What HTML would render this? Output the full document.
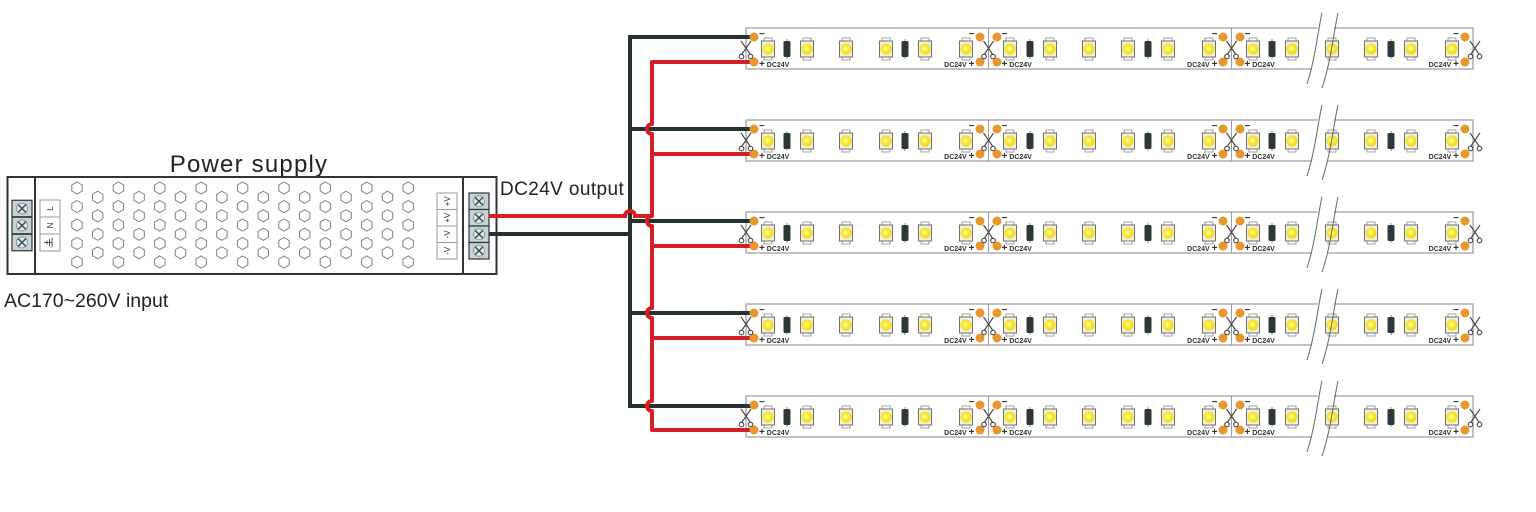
<!DOCTYPE html>
<html><head><meta charset="utf-8"><style>
html,body{margin:0;padding:0;background:#fff;}
svg{display:block;}
text{font-family:"Liberation Sans",Arial,sans-serif;}
.m{font-size:10px;font-weight:bold;fill:#333;}
.d{font-size:7px;font-weight:bold;fill:#333;}
.p{font-size:10px;}
.e{text-anchor:end;}
.lb{font-size:8px;fill:#333;}
</style></head><body>
<svg width="1536" height="512" viewBox="0 0 1536 512" xmlns="http://www.w3.org/2000/svg">
<defs>
<radialGradient id="yg" cx="0.45" cy="0.45" r="0.55">
<stop offset="0" stop-color="#fffbe0"/><stop offset="0.35" stop-color="#fbef55"/><stop offset="1" stop-color="#f0d800"/>
</radialGradient>
<path id="hx" d="M0,-6 L5.2,-3 L5.2,3 L0,6 L-5.2,3 L-5.2,-3 Z" fill="none" stroke="#7f7f7f" stroke-width="1"/>
<g id="c5"><use href="#hx" y="188"/><use href="#hx" y="206.5"/><use href="#hx" y="225"/><use href="#hx" y="243.5"/><use href="#hx" y="262"/></g>
<g id="c4"><use href="#hx" y="197.25"/><use href="#hx" y="215.75"/><use href="#hx" y="234.25"/><use href="#hx" y="252.75"/></g>
<g id="led">
<rect x="-4" y="-11" width="8" height="3.2" fill="#fff" stroke="#8a8a8a" stroke-width="0.8"/>
<rect x="-4" y="7.8" width="8" height="3.2" fill="#fff" stroke="#8a8a8a" stroke-width="0.8"/>
<rect x="-6.5" y="-8" width="13" height="16" fill="#f3efe0" stroke="#6f6f6f" stroke-width="1"/>
<circle r="5.5" fill="url(#yg)"/>
</g>
<g id="res">
<line x1="0" y1="-10" x2="0" y2="10" stroke="#888" stroke-width="1"/>
<rect x="-3.5" y="-8" width="7" height="16" rx="1.5" fill="#2d3838"/>
</g>
<g id="sc" stroke="#444" stroke-width="1.1" fill="none">
<path d="M-5,13 L4,26 M5,13 L-4,26"/>
<circle cx="-4.5" cy="28.5" r="2.3"/>
<circle cx="4.5" cy="28.5" r="2.3"/>
</g>
<g id="scr">
<rect x="-10" y="-8.25" width="20" height="16.5" fill="#c6d3d5" stroke="#333" stroke-width="1.2"/>
<circle r="5.5" fill="#dfe8ea" stroke="#7d9094" stroke-width="0.8"/>
<path d="M-4,-4 L4,4 M4,-4 L-4,4" stroke="#3a4848" stroke-width="1.4"/>
</g>
<g id="st">
<rect x="746" y="0" width="727" height="41" fill="#fff" stroke="#9a9a9a" stroke-width="1.2"/>
<line x1="988.5" y1="0" x2="988.5" y2="41" stroke="#9a9a9a" stroke-width="1"/>
<line x1="1231.5" y1="0" x2="1231.5" y2="41" stroke="#9a9a9a" stroke-width="1"/>
<polygon points="1318,-1 1334,-1 1328,42 1312,42" fill="#fff"/>
<use href="#led" x="768" y="21"/><use href="#res" x="787" y="21"/><use href="#led" x="807" y="21"/>
<use href="#led" x="846" y="21"/><use href="#led" x="886" y="21"/><use href="#res" x="905" y="21"/>
<use href="#led" x="925" y="21"/><use href="#led" x="966" y="21"/>
<use href="#led" x="1010" y="21"/><use href="#res" x="1030" y="21"/><use href="#led" x="1050" y="21"/>
<use href="#led" x="1089" y="21"/><use href="#led" x="1128" y="21"/><use href="#res" x="1148" y="21"/>
<use href="#led" x="1168" y="21"/><use href="#led" x="1209" y="21"/>
<use href="#led" x="1253" y="21"/><use href="#res" x="1272" y="21"/><use href="#led" x="1292" y="21"/>
<use href="#led" x="1332" y="21"/><use href="#led" x="1371" y="21"/><use href="#res" x="1391" y="21"/>
<use href="#led" x="1411" y="21"/><use href="#led" x="1452" y="21"/>
<path d="M1322,-15 C1318,2 1315,32 1307,56 M1338,-15 C1334,2 1331,34 1322,60" fill="none" stroke="#666" stroke-width="1"/>
<g fill="#e8962e">
<circle cx="980" cy="9" r="4.5"/><circle cx="980" cy="34" r="4.5"/>
<circle cx="997" cy="9" r="4.5"/><circle cx="997" cy="34" r="4.5"/>
<circle cx="1223" cy="9" r="4.5"/><circle cx="1223" cy="34" r="4.5"/>
<circle cx="1240" cy="9" r="4.5"/><circle cx="1240" cy="34" r="4.5"/>
<circle cx="1465" cy="9" r="4.5"/><circle cx="1465" cy="34" r="4.5"/>
</g>
<use href="#sc" x="988.5"/><use href="#sc" x="1231.5"/><use href="#sc" x="1475"/>
</g>
</defs>

<!-- Power supply -->
<text x="249" y="172" text-anchor="middle" font-size="24" letter-spacing="1.2" fill="#222">Power supply</text>
<rect x="7.5" y="177" width="489" height="97" fill="#fff" stroke="#333" stroke-width="2"/>
<line x1="35" y1="177" x2="35" y2="274" stroke="#333" stroke-width="2"/>
<line x1="463" y1="177" x2="463" y2="274" stroke="#333" stroke-width="2"/>
<use href="#c5" x="77"/><use href="#c5" x="118.4"/><use href="#c5" x="159.8"/><use href="#c5" x="201.2"/><use href="#c5" x="242.6"/>
<use href="#c5" x="284"/><use href="#c5" x="325.4"/><use href="#c5" x="366.8"/><use href="#c5" x="408.2"/>
<use href="#c4" x="97.7"/><use href="#c4" x="139.1"/><use href="#c4" x="180.5"/><use href="#c4" x="221.9"/>
<use href="#c4" x="263.3"/><use href="#c4" x="304.7"/><use href="#c4" x="346.1"/><use href="#c4" x="387.5"/>

<!-- left terminal -->
<use href="#scr" x="22" y="208.5"/><use href="#scr" x="22" y="225.5"/><use href="#scr" x="22" y="242.5"/>
<rect x="40" y="200" width="20" height="51" fill="#fff" stroke="#999" stroke-width="1"/>
<line x1="40" y1="217" x2="60" y2="217" stroke="#999"/><line x1="40" y1="234" x2="60" y2="234" stroke="#999"/>
<text class="lb" transform="translate(53,208.5) rotate(-90)" text-anchor="middle">L</text>
<text class="lb" transform="translate(53,225.5) rotate(-90)" text-anchor="middle">N</text>
<g stroke="#444" stroke-width="0.9"><line x1="44" y1="242.5" x2="52" y2="242.5"/><line x1="52" y1="237.5" x2="52" y2="247.5"/><line x1="49.5" y1="239" x2="49.5" y2="246"/><line x1="47" y1="240.5" x2="47" y2="244.5"/></g>

<!-- right terminal -->
<rect x="437" y="193" width="20" height="66" fill="#fff" stroke="#999" stroke-width="1"/>
<line x1="437" y1="209.5" x2="457" y2="209.5" stroke="#999"/><line x1="437" y1="226" x2="457" y2="226" stroke="#999"/><line x1="437" y1="242.5" x2="457" y2="242.5" stroke="#999"/>
<text class="lb" transform="translate(450,201.25) rotate(-90)" text-anchor="middle">+V</text>
<text class="lb" transform="translate(450,217.75) rotate(-90)" text-anchor="middle">+V</text>
<text class="lb" transform="translate(450,234.25) rotate(-90)" text-anchor="middle">-V</text>
<text class="lb" transform="translate(450,250.75) rotate(-90)" text-anchor="middle">-V</text>
<use href="#scr" x="479" y="201.25"/><use href="#scr" x="479" y="217.75"/><use href="#scr" x="479" y="234.25"/><use href="#scr" x="479" y="250.75"/>

<text x="500" y="195" font-size="19" letter-spacing="0.4" fill="#222">DC24V output</text>
<text x="4" y="307" font-size="19.5" fill="#222">AC170~260V input</text>

<!-- strips -->
<use href="#st" y="28"/><use href="#st" y="120"/><use href="#st" y="212"/><use href="#st" y="304"/><use href="#st" y="396"/>

<!-- wires -->
<path d="M754,37 H630 V406 H754 M630,129 H754 M630,221 H754 M630,313 H754 M489,234 H630" fill="none" stroke="#263230" stroke-width="4"/>
<path d="M489,216 H625 A5,5 0 0 1 635,216 H652" fill="none" stroke="#d51e24" stroke-width="4"/>
<path d="M754,62 H652 V124 A5,5 0 0 0 652,134 V216 A5,5 0 0 0 652,226 V308 A5,5 0 0 0 652,318 V401 A5,5 0 0 0 652,411 V430 H754 M652,154 H754 M652,246 H754 M652,338 H754" fill="none" stroke="#d51e24" stroke-width="4" stroke-linejoin="round"/>

<!-- start dots and scissors -->
<g fill="#e8962e">
<circle cx="754" cy="37" r="4.5"/><circle cx="754" cy="62" r="4.5"/>
<circle cx="754" cy="129" r="4.5"/><circle cx="754" cy="154" r="4.5"/>
<circle cx="754" cy="221" r="4.5"/><circle cx="754" cy="246" r="4.5"/>
<circle cx="754" cy="313" r="4.5"/><circle cx="754" cy="338" r="4.5"/>
<circle cx="754" cy="405" r="4.5"/><circle cx="754" cy="430" r="4.5"/>
</g>
<use href="#sc" x="746" y="28"/><use href="#sc" x="746" y="120"/><use href="#sc" x="746" y="212"/><use href="#sc" x="746" y="304"/><use href="#sc" x="746" y="396"/>

<!-- strip labels: strip 1 (T=28) -->
<text class="m" x="759" y="37">−</text><text class="d" x="759" y="67"><tspan class="p">+</tspan> DC24V</text>
<text class="m" x="1001.5" y="37">−</text><text class="d" x="1001.5" y="67"><tspan class="p">+</tspan> DC24V</text>
<text class="m" x="1244.5" y="37">−</text><text class="d" x="1244.5" y="67"><tspan class="p">+</tspan> DC24V</text>
<text class="m e" x="974.5" y="37">−</text><text class="d e" x="974.5" y="67">DC24V <tspan class="p">+</tspan></text>
<text class="m e" x="1217.5" y="37">−</text><text class="d e" x="1217.5" y="67">DC24V <tspan class="p">+</tspan></text>
<text class="m e" x="1459" y="37">−</text><text class="d e" x="1459" y="67">DC24V <tspan class="p">+</tspan></text>
<!-- strip 2 (T=120) -->
<text class="m" x="759" y="129">−</text><text class="d" x="759" y="159"><tspan class="p">+</tspan> DC24V</text>
<text class="m" x="1001.5" y="129">−</text><text class="d" x="1001.5" y="159"><tspan class="p">+</tspan> DC24V</text>
<text class="m" x="1244.5" y="129">−</text><text class="d" x="1244.5" y="159"><tspan class="p">+</tspan> DC24V</text>
<text class="m e" x="974.5" y="129">−</text><text class="d e" x="974.5" y="159">DC24V <tspan class="p">+</tspan></text>
<text class="m e" x="1217.5" y="129">−</text><text class="d e" x="1217.5" y="159">DC24V <tspan class="p">+</tspan></text>
<text class="m e" x="1459" y="129">−</text><text class="d e" x="1459" y="159">DC24V <tspan class="p">+</tspan></text>
<!-- strip 3 (T=212) -->
<text class="m" x="759" y="221">−</text><text class="d" x="759" y="251"><tspan class="p">+</tspan> DC24V</text>
<text class="m" x="1001.5" y="221">−</text><text class="d" x="1001.5" y="251"><tspan class="p">+</tspan> DC24V</text>
<text class="m" x="1244.5" y="221">−</text><text class="d" x="1244.5" y="251"><tspan class="p">+</tspan> DC24V</text>
<text class="m e" x="974.5" y="221">−</text><text class="d e" x="974.5" y="251">DC24V <tspan class="p">+</tspan></text>
<text class="m e" x="1217.5" y="221">−</text><text class="d e" x="1217.5" y="251">DC24V <tspan class="p">+</tspan></text>
<text class="m e" x="1459" y="221">−</text><text class="d e" x="1459" y="251">DC24V <tspan class="p">+</tspan></text>
<!-- strip 4 (T=304) -->
<text class="m" x="759" y="313">−</text><text class="d" x="759" y="343"><tspan class="p">+</tspan> DC24V</text>
<text class="m" x="1001.5" y="313">−</text><text class="d" x="1001.5" y="343"><tspan class="p">+</tspan> DC24V</text>
<text class="m" x="1244.5" y="313">−</text><text class="d" x="1244.5" y="343"><tspan class="p">+</tspan> DC24V</text>
<text class="m e" x="974.5" y="313">−</text><text class="d e" x="974.5" y="343">DC24V <tspan class="p">+</tspan></text>
<text class="m e" x="1217.5" y="313">−</text><text class="d e" x="1217.5" y="343">DC24V <tspan class="p">+</tspan></text>
<text class="m e" x="1459" y="313">−</text><text class="d e" x="1459" y="343">DC24V <tspan class="p">+</tspan></text>
<!-- strip 5 (T=396) -->
<text class="m" x="759" y="405">−</text><text class="d" x="759" y="435"><tspan class="p">+</tspan> DC24V</text>
<text class="m" x="1001.5" y="405">−</text><text class="d" x="1001.5" y="435"><tspan class="p">+</tspan> DC24V</text>
<text class="m" x="1244.5" y="405">−</text><text class="d" x="1244.5" y="435"><tspan class="p">+</tspan> DC24V</text>
<text class="m e" x="974.5" y="405">−</text><text class="d e" x="974.5" y="435">DC24V <tspan class="p">+</tspan></text>
<text class="m e" x="1217.5" y="405">−</text><text class="d e" x="1217.5" y="435">DC24V <tspan class="p">+</tspan></text>
<text class="m e" x="1459" y="405">−</text><text class="d e" x="1459" y="435">DC24V <tspan class="p">+</tspan></text>
</svg>
</body></html>
